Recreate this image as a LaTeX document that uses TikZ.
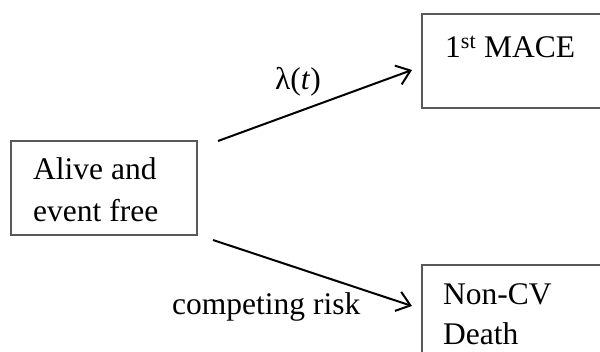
\documentclass[tikz,border=0pt]{standalone}
\usepackage{fontspec}
\setmainfont{Liberation Serif}
\usetikzlibrary{arrows.meta}
\begin{document}
\begin{tikzpicture}[x=1pt,y=-1pt,
  box/.style={draw=black!65, line width=1.6pt, rectangle, inner sep=0pt},
  lbl/.style={anchor=base west, inner sep=0pt, font=\fontsize{31.5}{38}\selectfont},
  conn/.style={line width=2pt, -{Straight Barb[length=13pt,width=20pt,line width=2pt]}}]
\useasboundingbox (0,0) rectangle (600,352);
\clip (0,0) rectangle (600,352);
\node[box, minimum width=186pt, minimum height=94pt] (alive) at (104,188) {};
\node[box, minimum width=200pt, minimum height=94pt] (mace) at (522,61) {};
\node[box, minimum width=200pt, minimum height=96pt] (death) at (522,313) {};
\node[lbl] (t1) at (33,180) {Alive and};
\node[lbl] (t2) at (33,222) {event free};
\node[lbl] (t3) at (445,58) {1\textsuperscript{st} MACE};
\node[lbl] (t4) at (443,305) {Non-CV};
\node[lbl] (t5) at (443,345) {Death};
\node[lbl] (l1) at (275,90) {λ(\textit{t})};
\node[lbl] (l2) at (172,315) {competing risk};
\coordinate (s1) at (218,141);
\coordinate (e1) at (412,70);
\coordinate (s2) at (213,240);
\coordinate (e2) at (412,306);
\draw[conn] (s1) -- (e1);
\draw[conn] (s2) -- (e2);
\end{tikzpicture}
\end{document}
